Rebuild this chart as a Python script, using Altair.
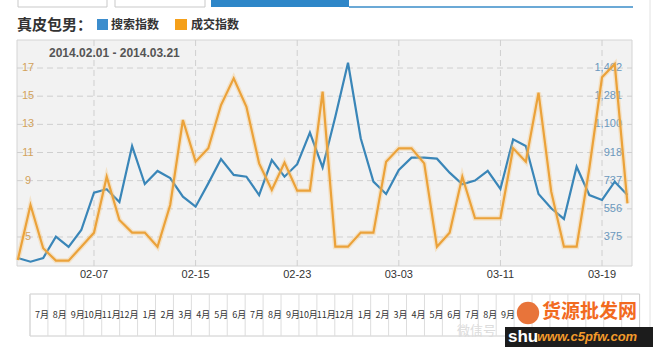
import altair as alt
import pandas as pd

# ---------------- data ----------------
day_labels = [d.strftime("%m-%d") for d in pd.date_range("2014-02-01", "2014-03-21")]

search_index = [240, 216, 240, 377, 311, 420, 660, 682, 600, 960, 716, 800, 754, 634,
                570, 720, 877, 774, 763, 645, 870, 763, 843, 1046, 822, 1149, 1496, 1010,
                731, 652, 806, 885, 885, 879, 789, 714, 738, 801, 684, 1003, 960, 652,
                560, 491, 827, 645, 613, 731, 645]

trade_index = [3.37, 7.27, 4.2, 3.32, 3.32, 4.31, 5.31, 9.28, 6.21, 5.31, 5.31, 4.31,
               7.27, 13.31, 10.35, 11.3, 14.37, 16.27, 14.25, 10.23, 8.34, 10.28, 8.29,
               8.29, 15.32, 4.31, 4.31, 5.31, 5.31, 10.35, 11.3, 11.3, 10.23, 4.31, 5.31,
               9.28, 6.33, 6.33, 6.33, 11.3, 10.35, 15.25, 8.22, 4.31, 4.31, 9.88, 16.34,
               17.28, 7.39]

x_tick_labels = ["02-07", "02-15", "02-23", "03-03", "03-11", "03-19"]
left_ticks = [5, 7, 9, 11, 13, 15, 17]
left_tick_labels = ["5", "", "9", "11", "13", "15", "17"]
right_ticks = [375, 556, 737, 918, 1100, 1281, 1462]
right_tick_labels = ["375", "556", "737", "918", "1,100", "1,281", "1,462"]
nav_months = [7, 8, 9, 10, 11, 12] + list(range(1, 13)) + list(range(1, 13)) + [1, 2, 3, 4]
nav_visible = 27  # month labels further right are hidden behind the watermark

title_text = "真皮包男："
series_names = ["搜索指数", "成交指数"]
range_text = "2014.02.01 - 2014.03.21"

# ---------------- tables ----------------
df = pd.DataFrame({"i": list(range(len(day_labels))), "day": day_labels,
                   "search": search_index, "trade": trade_index})
xt = pd.DataFrame({"label": x_tick_labels,
                   "i": [day_labels.index(l) for l in x_tick_labels]})
lt = pd.DataFrame({"v": left_ticks, "label": left_tick_labels})
rt = pd.DataFrame({"v": right_ticks, "label": right_tick_labels})
nav = pd.DataFrame({"idx": list(range(len(nav_months))),
                    "edge": [k + 1 for k in range(len(nav_months))],
                    "label": [f"{m}月" for m in nav_months]})
nav_lab = nav.iloc[:nav_visible]
one = pd.DataFrame({"a": [0]})

W, H = 615, 226
CJK = "Noto Sans CJK SC"
LAT = "Liberation Sans"
ORANGE = "#eba23a"
BLUE = "#3a86b8"

xs = alt.Scale(domain=[-0.063, 48.36], nice=False, zero=False)
ls = alt.Scale(domain=[2.94, 18.99], nice=False, zero=False)
rs = alt.Scale(domain=[188.5, 1642], nice=False, zero=False)
ns = alt.Scale(domain=[0, len(nav_months)], range=[13, 13 + 17.93 * len(nav_months)], nice=False, zero=False)

def box(x1, x2, y1, y2, **kw):
    return alt.Chart(one).mark_rect(**kw).encode(
        x=alt.value(x1), x2=alt.value(x2), y=alt.value(y1), y2=alt.value(y2))

def label(txt, x, y, **kw):
    return alt.Chart(one).mark_text(text=txt, **kw).encode(x=alt.value(x), y=alt.value(y))

layers = []
# tab bar at top
layers.append(box(1, 90, -41, -33, fill="white", stroke="#c9c9c9"))
layers.append(box(98, 188, -41, -33, fill="white", stroke="#c9c9c9"))
layers.append(box(194, 332, -41, -33, fill="#2e86c8"))
layers.append(alt.Chart(one).mark_rule(color="#3a8cc8", strokeWidth=1.5).encode(
    x=alt.value(332), x2=alt.value(616), y=alt.value(-33)))
# right page border
layers.append(alt.Chart(one).mark_rule(color="#e2e2e2").encode(
    x=alt.value(633), y=alt.value(-40), y2=alt.value(290)))

# title + legend
layers.append(label(title_text, 0, -15, font=CJK, fontSize=15, fontWeight="bold",
                    color="#333333", align="left", baseline="middle"))
layers.append(box(80, 91, -21, -10, fill="#3c8dcd"))
layers.append(label(series_names[0], 94, -15, font=CJK, fontSize=12, fontWeight="bold",
                    color="#333333", align="left", baseline="middle"))
layers.append(box(158, 170, -21, -10, fill="#f5a01a"))
layers.append(label(series_names[1], 174, -15, font=CJK, fontSize=12, fontWeight="bold",
                    color="#333333", align="left", baseline="middle"))

# plot background
layers.append(box(0, W, 0, H, fill="#f2f2f2", stroke="#d4d4d4"))

# gridlines
layers.append(alt.Chart(lt).mark_rule(color="#cfcfcf", strokeDash=[6, 4]).encode(
    y=alt.Y("v:Q", scale=ls, axis=None), x=alt.value(0), x2=alt.value(W)))
layers.append(alt.Chart(xt).mark_rule(color="#cfcfcf", strokeDash=[6, 4]).encode(
    x=alt.X("i:Q", scale=xs, axis=None), y=alt.value(0), y2=alt.value(H)))

# date range
layers.append(label(range_text, 32, 13, font=LAT, fontSize=12, fontWeight="bold",
                    color="#555555", align="left", baseline="middle"))

# axis labels
layers.append(alt.Chart(lt).mark_text(font=LAT, fontSize=11, color="#d2a25c",
                                      align="center", baseline="middle").encode(
    y=alt.Y("v:Q", scale=ls, axis=None), x=alt.value(11), text="label:N"))
layers.append(alt.Chart(rt).mark_text(font=LAT, fontSize=11, color="#6b98bd",
                                      align="right", baseline="middle").encode(
    y=alt.Y("v:Q", scale=rs, axis=None), x=alt.value(605), text="label:N"))
layers.append(alt.Chart(xt).mark_text(font=LAT, fontSize=11, color="#333333",
                                      align="center", baseline="middle").encode(
    x=alt.X("i:Q", scale=xs, axis=None), y=alt.value(H + 9), text="label:N"))

# series
layers.append(alt.Chart(df).mark_line(color=BLUE, strokeWidth=2.2).encode(
    x=alt.X("i:Q", scale=xs, axis=None), y=alt.Y("search:Q", scale=rs, axis=None)))
layers.append(alt.Chart(df).mark_line(color="#f6c77a", strokeWidth=5, opacity=0.35).encode(
    x=alt.X("i:Q", scale=xs, axis=None), y=alt.Y("trade:Q", scale=ls, axis=None)))
layers.append(alt.Chart(df).mark_line(color=ORANGE, strokeWidth=2.2).encode(
    x=alt.X("i:Q", scale=xs, axis=None), y=alt.Y("trade:Q", scale=ls, axis=None)))

# navigator
layers.append(box(13, 13 + 17.93 * len(nav_months), 254, 296, fill="white", stroke="#cccccc"))
layers.append(alt.Chart(nav).mark_rule(color="#dddddd").encode(
    x=alt.X("idx:Q", scale=ns, axis=None), y=alt.value(254), y2=alt.value(296)))
layers.append(alt.Chart(nav_lab).mark_text(font=CJK, fontSize=9, color="#333333",
                                           align="right", baseline="middle", dx=1).encode(
    x=alt.X("edge:Q", scale=ns, axis=None), y=alt.value(275), text="label:N"))

# watermark
layers.append(label("微信号", 440, 291, font=CJK, fontSize=13, color="#dcdcdc",
                    align="left", baseline="middle"))
layers.append(alt.Chart(one).mark_circle(size=500, color="#e8743a", opacity=1).encode(
    x=alt.value(511), y=alt.value(273)))
layers.append(label("货源批发网", 525, 272, font=CJK, fontSize=19, fontWeight="bold",
                    color="#f26a1f", align="left", baseline="middle"))
layers.append(box(488, 636, 287, 307, fill="#1c1c1c"))
layers.append(label("shu", 491, 297, font=LAT, fontSize=17, fontWeight="bold",
                    color="white", align="left", baseline="middle"))
layers.append(label("www.c5pfw.com", 520, 297, font=LAT, fontSize=13, fontWeight="bold",
                    fontStyle="italic", color="#f39a2a", align="left", baseline="middle"))

chart = alt.layer(*layers).resolve_scale(x="independent", y="independent").properties(
    width=W, height=H,
    padding={"left": 17, "top": 40, "right": 28, "bottom": 91},
    autosize="none",
    background="white",
).configure_view(stroke=None)

chart.save("out.html", embed_options={"renderer": "svg", "actions": False})
